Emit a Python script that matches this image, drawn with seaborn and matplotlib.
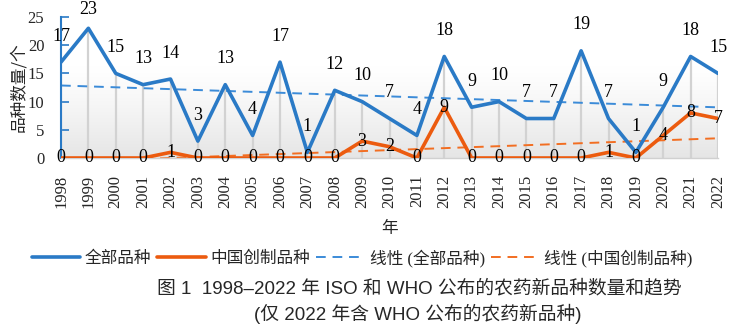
import numpy as np
import pandas as pd
import matplotlib
matplotlib.use("Agg")
import matplotlib.pyplot as plt
import seaborn as sns
from matplotlib.lines import Line2D

# ---- data ---------------------------------------------------------------
years = list(range(1998, 2023))
all_new = [17, 23, 15, 13, 14, 3, 13, 4, 17, 1, 12, 10, 7, 4, 18, 9, 10, 7, 7, 19, 7, 1, 9, 18, 15]
china_new = [0, 0, 0, 0, 1, 0, 0, 0, 0, 0, 0, 3, 2, 0, 9, 0, 0, 0, 0, 0, 1, 0, 4, 8, 7]

series_names = ["全部品种", "中国创制品种"]
trend_names = ["线性 (全部品种)", "线性 (中国创制品种)"]
y_label = "品种数量/个"
x_label = "年"
caption_1 = "图 1  1998–2022 年 ISO 和 WHO 公布的农药新品种数量和趋势"
caption_2 = "(仅 2022 年含 WHO 公布的农药新品种)"

BLUE = "#2A7AC6"
ORANGE = "#EC5B0F"
BLUE_T = "#3B8BD8"
ORANGE_T = "#F26E22"

df = pd.DataFrame({"year": years, "all": all_new, "china": china_new})

sns.set_theme(style="white")
plt.rcParams["font.family"] = ["Liberation Serif", "Noto Sans CJK SC"]
cjk = ["Noto Sans CJK SC", "DejaVu Sans"]
sans = ["Liberation Sans", "Noto Sans CJK SC"]

fig = plt.figure(figsize=(7.39, 3.24), dpi=100)
ax = fig.add_axes([61 / 739, 1 - 158 / 324, (718 - 61) / 739, (158 - 17) / 324])

# soft vertical gradient behind the plot
grad = np.linspace(0, 1, 256)
shade = np.clip((grad - 0.35) / 0.65, 0, 1) ** 1.2
col = 1.0 - 0.10 * shade
img = np.dstack([col, col, col])[:, None, :].reshape(256, 1, 3)
ax.imshow(img, extent=[0, 1, 0, 1], transform=ax.transAxes, aspect="auto",
          origin="upper", zorder=0)

# drop lines from the higher series down to the axis
tops = np.maximum(df["all"].values, df["china"].values)
ax.vlines(df["year"], 0, tops, color="#d2d2d2", lw=1.6, zorder=1)

# linear trends
for col_name, c in [("all", BLUE_T), ("china", ORANGE_T)]:
    k, b = np.polyfit(df["year"], df[col_name], 1)
    ax.plot(df["year"], k * df["year"] + b, color=c, lw=1.4,
            dashes=(5, 3.5), zorder=2)

sns.lineplot(data=df, x="year", y="all", color=BLUE, lw=2.6, ax=ax, zorder=3)
sns.lineplot(data=df, x="year", y="china", color=ORANGE, lw=2.6, ax=ax, zorder=3)

# value labels
for x, v in zip(years, all_new):
    ax.text(x, min(v + 4.6, 26.3), str(v), ha="center", va="center",
            fontsize=13, color="black", clip_on=False, zorder=5)
for x, v in zip(years, china_new):
    ax.text(x, v, str(v), ha="center", va="center",
            fontsize=13, color="black", clip_on=False, zorder=5)

ax.set_xlim(1998, 2022)
ax.set_ylim(0, 25)
ax.set_xticks(years)
ax.set_xticklabels([str(y) for y in years], rotation=90, fontsize=12)
ax.set_yticks([0, 5, 10, 15, 20, 25])
ax.set_yticklabels(["0", "5", "10", "15", "20", "25"], fontsize=12)
ax.tick_params(axis="x", length=0, pad=12)
ax.tick_params(axis="y", direction="in", length=6, width=1.2, color=BLUE, pad=12, left=True)

for s in ["top", "right"]:
    ax.spines[s].set_visible(False)
ax.spines["left"].set_color(BLUE)
ax.spines["left"].set_linewidth(1.5)
ax.spines["bottom"].set_color("#d0d0d0")
ax.spines["bottom"].set_linewidth(1.0)

ax.set_xlabel(x_label, family=cjk, fontsize=12, labelpad=9)
ax.set_ylabel(y_label, family=cjk, fontsize=12, labelpad=0)

handles = [
    Line2D([], [], color=BLUE, lw=2.6),
    Line2D([], [], color=ORANGE, lw=2.6),
    Line2D([], [], color=BLUE_T, lw=1.4, dashes=(5, 3.5)),
    Line2D([], [], color=ORANGE_T, lw=1.4, dashes=(5, 3.5)),
]
fig.legend(handles, series_names + trend_names, loc="center", ncol=4,
           bbox_to_anchor=(362 / 739, 1 - 258 / 324), frameon=False,
           prop={"family": ["Liberation Serif", "Noto Sans CJK SC"], "size": 12},
           handlelength=2.9, handletextpad=0.3, columnspacing=0.35)

fig.text(419 / 739, 1 - 289 / 324, caption_1, ha="center", va="center",
         family=sans, fontsize=13.5)
fig.text(418 / 739, 1 - 314 / 324, caption_2, ha="center", va="center",
         family=sans, fontsize=13.5)

fig.savefig("out.png", dpi=100)
